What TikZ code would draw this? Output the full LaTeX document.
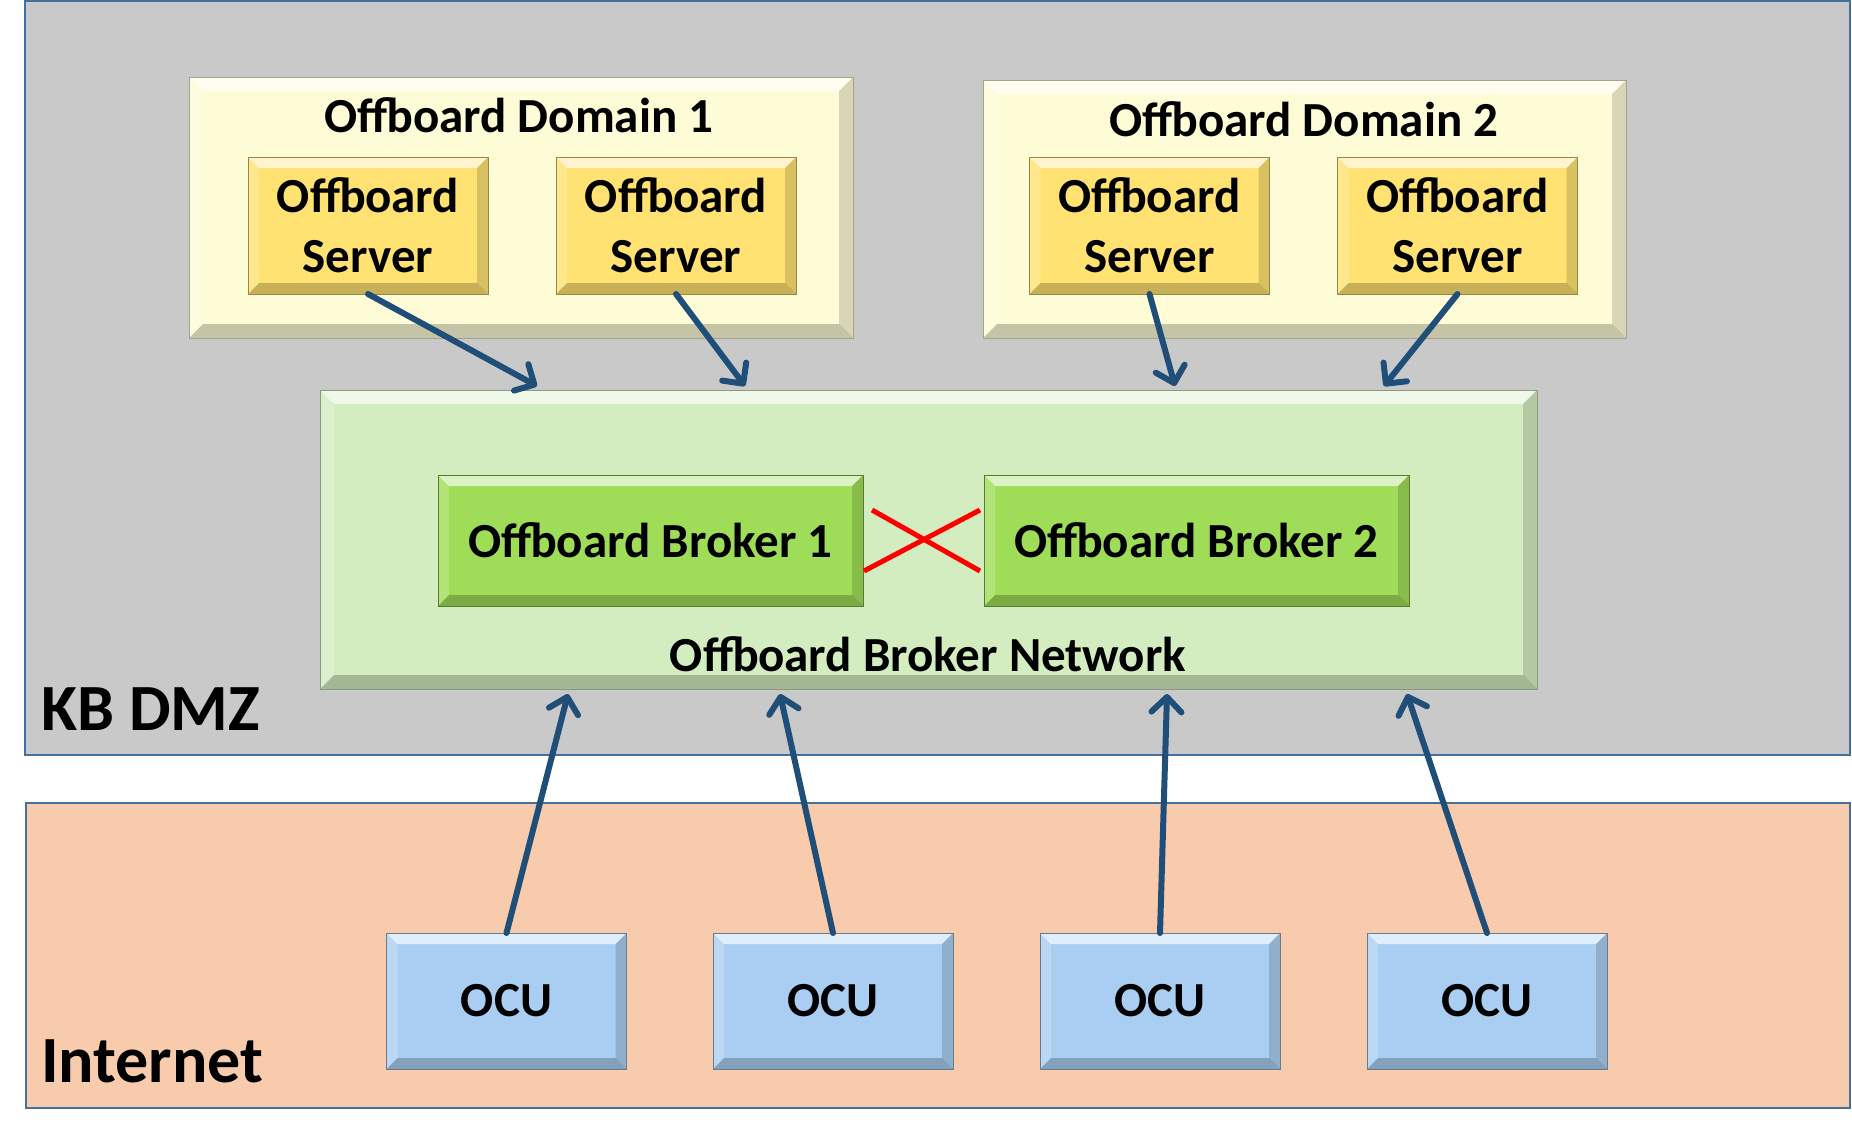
\documentclass[tikz,border=0pt]{standalone}
\usepackage{fontspec}
\setmainfont{Carlito}
\usetikzlibrary{arrows.meta,calc}
\definecolor{dmzfill}{HTML}{C9C9C9}
\definecolor{frameblue}{HTML}{41719C}
\definecolor{inetfill}{HTML}{F8CBAD}
\definecolor{domfill}{HTML}{FEFCD6}
\definecolor{srvfill}{HTML}{FFE271}
\definecolor{netfill}{HTML}{D3EDC0}
\definecolor{brkfill}{HTML}{9FDC58}
\definecolor{ocufill}{HTML}{A9CEF2}
\definecolor{arrowblue}{HTML}{1F4E79}
\definecolor{crossred}{HTML}{FF0000}
\tikzset{
  bevel/.style={path picture={
    \coordinate (pTL) at (path picture bounding box.north west);
    \coordinate (pTR) at (path picture bounding box.north east);
    \coordinate (pBL) at (path picture bounding box.south west);
    \coordinate (pBR) at (path picture bounding box.south east);
    \fill[white,opacity=0.65] (pTL) -- (pTR) -- ($(pTR)+(-#1,#1)$) -- ($(pTL)+(#1,#1)$) -- cycle;
    \fill[black,opacity=0.22] (pBL) -- (pBR) -- ($(pBR)+(-#1,-#1)$) -- ($(pBL)+(#1,-#1)$) -- cycle;
    \fill[white,opacity=0.2] (pTL) -- (pBL) -- ($(pBL)+(#1,-#1)$) -- ($(pTL)+(#1,#1)$) -- cycle;
    \fill[black,opacity=0.15] (pTR) -- (pBR) -- ($(pBR)+(-#1,-#1)$) -- ($(pTR)+(-#1,#1)$) -- cycle;
  }},
  zone/.style={draw=frameblue,line width=2.5pt,inner sep=0pt,outer sep=0pt},
  boxbase/.style={inner sep=0pt,outer sep=0pt,line width=1pt,align=center,
    font=\fontsize{49}{60}\selectfont\bfseries},
  domainbox/.style={boxbase,fill=domfill,draw=domfill!65!black,bevel=14},
  serverbox/.style={boxbase,fill=srvfill,draw=srvfill!60!black,bevel=11,
    minimum width=240pt,minimum height=137pt},
  netbox/.style={boxbase,fill=netfill,draw=netfill!65!black,bevel=14},
  brokerbox/.style={boxbase,fill=brkfill,draw=brkfill!55!black,bevel=11,
    minimum width=425pt,minimum height=131pt},
  ocubox/.style={boxbase,fill=ocufill,draw=ocufill!60!black,bevel=11,
    minimum width=240pt,minimum height=136pt},
  label/.style={inner sep=0pt,font=\fontsize{49}{60}\selectfont\bfseries},
  biglabel/.style={inner sep=0pt,anchor=west,font=\fontsize{66}{80}\selectfont\bfseries},
  flow/.style={draw=arrowblue,line width=6pt,line cap=round,
    -{Straight Barb[length=15pt,width=30pt,round]}},
  cross/.style={draw=crossred,line width=5pt}
}
\begin{document}
\begin{tikzpicture}[x=1pt,y=-1pt]
\useasboundingbox (0,0) rectangle (1852,1141);
\fill[white] (0,0) rectangle (1852,1141);
% zones
\node[zone,fill=dmzfill,minimum width=1825pt,minimum height=754pt] (dmz) at (937.5,378) {};
\node[zone,fill=inetfill,minimum width=1824pt,minimum height=305pt] (inet) at (938,955.5) {};
\node[biglabel] (dmzlab) at (41,709) {KB DMZ};
\node[biglabel] (inetlab) at (41,1061) {Internet};
% domains
\node[domainbox,minimum width=664pt,minimum height=261pt] (dom1) at (521,207.5) {};
\node[domainbox,minimum width=643pt,minimum height=258pt] (dom2) at (1304.5,209) {};
\node[label] (dom1lab) at (519,115) {Offboard Domain 1};
\node[label] (dom2lab) at (1304,119) {Offboard Domain 2};
% servers
\node[serverbox] (s1) at (368,225.5) {Offboard\\Server};
\node[serverbox] (s2) at (676,225.5) {Offboard\\Server};
\node[serverbox] (s3) at (1149.5,225.5) {Offboard\\Server};
\node[serverbox] (s4) at (1457.5,225.5) {Offboard\\Server};
% broker network
\node[netbox,minimum width=1217pt,minimum height=299pt] (net) at (928.5,539.5) {};
\node[label] (netlab) at (928,654) {Offboard Broker Network};
\node[brokerbox] (b1) at (650.5,540.5) {Offboard Broker 1};
\node[brokerbox] (b2) at (1196.5,540.5) {Offboard Broker 2};
% OCUs
\node[ocubox] (o1) at (506.5,1001) {OCU};
\node[ocubox] (o2) at (833,1001) {OCU};
\node[ocubox] (o3) at (1160,1001) {OCU};
\node[ocubox] (o4) at (1487,1001) {OCU};
% arrow ends
\coordinate (n1) at (537,386);
\coordinate (n2) at (745,386);
\coordinate (n3) at (1175,386);
\coordinate (n4) at (1384,386);
\coordinate (m1) at (568,694);
\coordinate (m2) at (780,694);
\coordinate (m3) at (1167,694);
\coordinate (m4) at (1407,694);
\draw[flow] (s1.south) -- (n1);
\draw[flow] (s2.south) -- (n2);
\draw[flow] (s3.south) -- (n3);
\draw[flow] (s4.south) -- (n4);
\draw[flow] (o1.north) -- (m1);
\draw[flow] (o2.north) -- (m2);
\draw[flow] (o3.north) -- (m3);
\draw[flow] (o4.north) -- (m4);
% red cross between brokers
\coordinate (xa) at (872,510);
\coordinate (xb) at (980,571);
\coordinate (xc) at (864,571);
\coordinate (xd) at (980,510);
\draw[cross] (xa) -- (xb);
\draw[cross] (xc) -- (xd);
\end{tikzpicture}
\end{document}
